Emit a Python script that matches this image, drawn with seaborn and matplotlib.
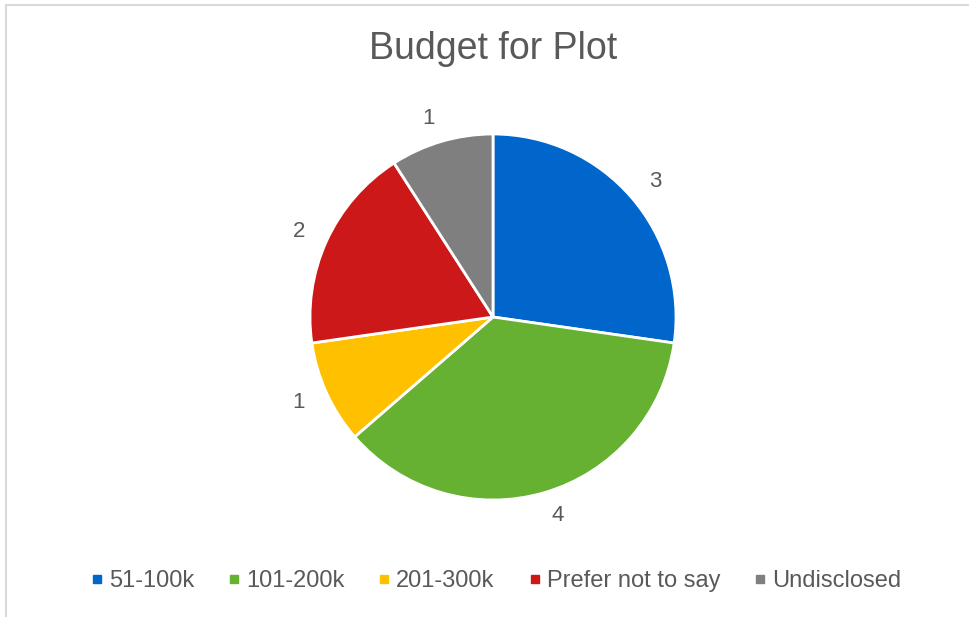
import matplotlib
matplotlib.use('Agg')
import matplotlib.pyplot as plt
from matplotlib.lines import Line2D
import seaborn as sns

# 数据
categories = ['51-100k', '101-200k', '201-300k', 'Prefer not to say', 'Undisclosed']
values = [3, 4, 1, 2, 1]
colors = ['#0066CC', '#66B132', '#FFC000', '#CC1818', '#7F7F7F']

sns.set_theme(style='white')
plt.rcParams['font.family'] = ['Liberation Sans', 'DejaVu Sans']

W, H = 970, 617
fig = plt.figure(figsize=(W / 100, H / 100), dpi=100)

# 饼图所在坐标轴，半径约183像素，中心(493, 317)
r = 183
cx, cy = 493, 317
ax = fig.add_axes([(cx - r) / W, 1 - (cy + r) / H, 2 * r / W, 2 * r / H])
wedges, texts = ax.pie(values, labels=[str(v) for v in values], colors=colors,
                       startangle=90, counterclock=False, labeldistance=1.13,
                       wedgeprops=dict(edgecolor='white', linewidth=2),
                       textprops=dict(color='#595959', fontsize=16))
ax.set_xlim(-1, 1)
ax.set_ylim(-1, 1)
ax.set_aspect('equal')
ax.axis('off')

fig.text(cx / W, 1 - 49 / H, 'Budget for Plot', ha='center', va='center',
         fontsize=27, color='#595959')

handles = [Line2D([0], [0], marker='s', linestyle='', markersize=6,
                  markerfacecolor=c, markeredgecolor=c) for c in colors]
fig.legend(handles, categories, loc='center', bbox_to_anchor=(0.512, 1 - 581 / H),
           ncol=5, frameon=False, fontsize=17, labelcolor='#595959',
           handlelength=0.4, handletextpad=0.3, columnspacing=1.5)

# 外框
fig.add_artist(plt.Line2D([6 / W, 6 / W], [0, 1 - 5 / H], color='#D9D9D9', lw=1.5,
                          transform=fig.transFigure))
fig.add_artist(plt.Line2D([6 / W, 1], [1 - 5 / H, 1 - 5 / H], color='#D9D9D9', lw=1.5,
                          transform=fig.transFigure))

fig.savefig('out.png', dpi=100, facecolor='white')
